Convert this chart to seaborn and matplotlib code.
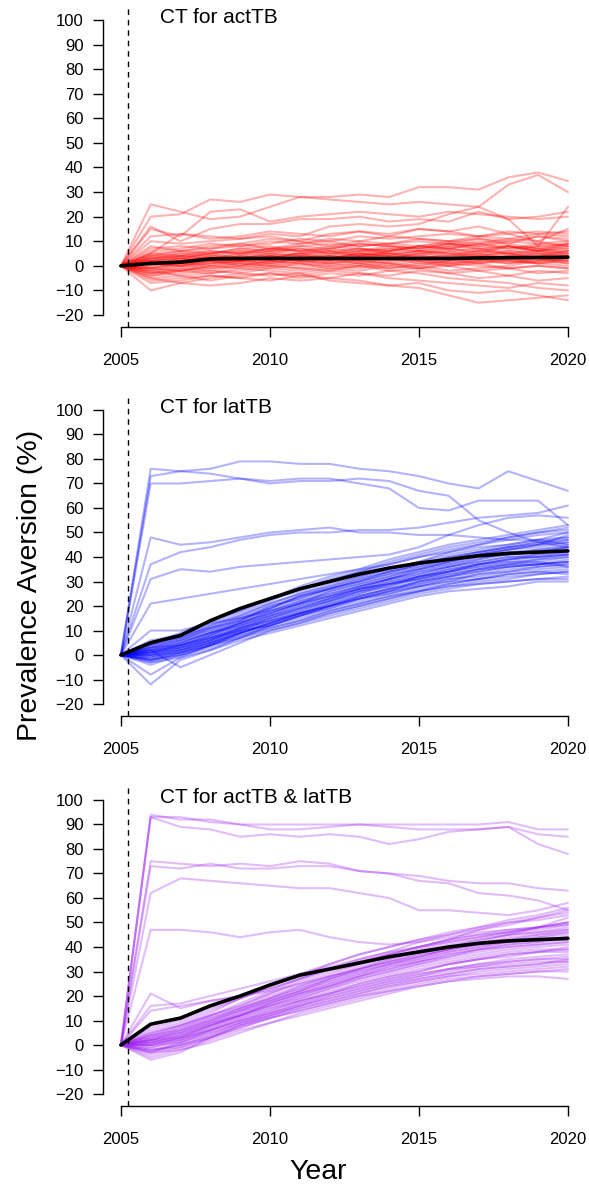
import matplotlib
matplotlib.use("Agg")
import matplotlib.pyplot as plt
import numpy as np
import pandas as pd
import seaborn as sns

years = list(range(2005, 2021))

titles = ["CT for actTB", "CT for latTB", "CT for actTB & latTB"]

act_runs = [
    [0, 25, 22, 19, 20, 24, 28, 28, 29, 28, 32, 32, 31, 36, 38, 34.5],
    [0, 20, 21, 27, 26, 29, 28, 27, 26, 25, 26, 25, 24, 33, 37, 30],
    [0, 15, 12, 22, 23, 18, 20, 21, 22, 21, 20, 22, 21, 20, 19, 20],
    [0, 16, 10, 15, 17, 17, 19, 19, 20, 18, 19, 18, 22, 19, 20, 22],
    [0, 5, 13, 12, 11, 13, 12, 16, 17, 16, 17, 21, 24, 19, 8, 24],
    [0, 10, 9, 10, 11, 12, 10, 13, 14, 12, 15, 14, 16, 13, 10, 15],
    [0, -10, -7, -8, -7, -5, -6, -5, -6, -8, -9, -12, -15, -14, -13, -12],
    [0, -5, -7, -5, -3, -4, -3, -6, -7, -8, -7, -10, -11, -10, -12, -14],
    [0, 2, 3, 5, 6, 7, 8, 9, 8, 9, 10, 9, 11, 10, 12, 11],
    [0, 4, 6, 7, 8, 9, 11, 10, 12, 11, 12, 13, 12, 14, 13, 14],
    [0, -2, -1, 1, 2, 1, 3, 2, 4, 3, 5, 4, 6, 5, 4, 6],
    [0, 1, 2, 3, 4, 3, 5, 6, 5, 7, 6, 8, 7, 6, 8, 7],
    [0, -4, -3, -2, -3, -1, -2, 0, -1, 1, 0, -2, -1, 0, 2, 1],
    [0, 3, 5, 4, 6, 5, 4, 6, 7, 5, 6, 7, 5, 8, 6, 9],
    [0, -1, 0, 2, 1, 3, 2, 4, 3, 2, 4, 3, 5, 3, 2, 4],
    [0, 6, 7, 9, 8, 10, 9, 11, 10, 12, 11, 10, 12, 11, 13, 12],
    [0, -6, -5, -4, -5, -3, -4, -2, -3, -4, -2, -3, -5, -4, -6, -5],
    [0, 2, 1, 3, 2, 4, 5, 3, 4, 6, 5, 7, 6, 5, 7, 5],
    [0, -3, -2, 0, -1, 1, 0, 2, 1, 0, 2, 1, 3, 2, 1, 3],
    [0, 8, 6, 8, 9, 7, 9, 10, 8, 9, 11, 10, 9, 11, 10, 8],
    [0, 1, 3, 2, 4, 6, 5, 7, 6, 8, 7, 9, 8, 10, 9, 10],
    [0, -2, -4, -3, -1, -2, -3, -1, 0, -2, -1, 1, 0, -1, -3, -2],
    [0, 4, 3, 5, 7, 6, 8, 7, 9, 8, 7, 9, 8, 7, 9, 8],
    [0, 0, 1, 0, 2, 3, 2, 1, 3, 4, 3, 2, 4, 5, 3, 2],
    [0, -7, -6, -4, -5, -6, -4, -5, -3, -5, -6, -7, -8, -9, -7, -8],
    [0, 3, 4, 6, 5, 7, 6, 5, 7, 6, 8, 9, 7, 8, 6, 7],
    [0, 12, 13, 11, 12, 14, 13, 12, 14, 13, 15, 14, 12, 13, 14, 13],
    [0, -1, 1, 3, 2, 1, 3, 4, 2, 3, 1, 2, 4, 6, 5, 4],
    [0, 5, 4, 3, 5, 4, 2, 3, 5, 4, 3, 5, 4, 2, 3, 1],
    [0, -3, -1, -2, 0, -1, 1, -1, -2, 0, -1, -3, -2, -4, -2, -3],
    [0, 2, 4, 5, 3, 5, 7, 6, 4, 6, 8, 7, 9, 8, 6, 5],
    [0, -5, -4, -6, -4, -3, -5, -3, -4, -2, -3, -5, -6, -7, -9, -10],
    [0, 7, 8, 7, 9, 11, 10, 8, 10, 9, 8, 10, 11, 9, 12, 10],
    [0, 1, 0, -1, 1, 0, -1, 1, 2, 1, -1, 0, 1, -1, 0, -1],
    [0, 3, 2, 4, 3, 2, 4, 3, 1, 3, 2, 0, 2, 1, 3, 4],
    [0, -2, 0, 1, 3, 4, 3, 5, 4, 3, 5, 6, 4, 3, 5, 6],
    [0, 1, 2, 4, 3, 5, 4, 3, 5, 4, 6, 5, 3, 4, 5, 3],
    [0, 2, 3, 2, 4, 3, 5, 4, 6, 5, 4, 6, 7, 5, 6, 8],
    [0, -1, -2, 0, 1, 0, 2, 1, 0, 2, 3, 1, 2, 4, 3, 2],
    [0, 4, 5, 6, 5, 7, 6, 8, 7, 6, 8, 7, 9, 7, 8, 9],
    [0, 0, 2, 3, 2, 4, 3, 2, 4, 5, 4, 3, 2, 3, 4, 5],
    [0, -3, -2, -1, 0, 2, 1, 0, 1, -1, 0, 2, 1, 3, 1, 0],
    [0, 3, 4, 3, 5, 6, 7, 5, 6, 7, 6, 5, 6, 8, 7, 6],
    [0, 1, 0, 2, 3, 2, 1, 3, 2, 1, 3, 4, 3, 1, 2, 3],
    [0, -4, -2, -3, -2, 0, -1, -2, 0, -1, 1, 0, -2, -1, 0, -1],
    [0, 5, 6, 5, 7, 8, 6, 7, 9, 8, 7, 8, 10, 9, 7, 9],
    [0, 2, 1, 1, 2, 4, 3, 4, 3, 5, 3, 4, 5, 4, 6, 4],
    [0, -1, 1, 2, 0, 2, 4, 3, 5, 4, 2, 3, 1, 2, 1, 2],
]
act_mean = [0, 1, 1.5, 2.8, 3, 3, 3, 3, 3, 3, 3, 3, 3.2, 3.3, 3.4, 3.5]

lat_runs = [
    [0, 76, 75, 76, 79, 79, 78, 78, 76, 75, 73, 70, 68, 75, 71, 67],
    [0, 73, 75, 74, 72, 71, 72, 72, 70, 68, 60, 59, 63, 63, 63, 53],
    [0, 70, 70, 71, 72, 70, 71, 71, 72, 71, 67, 65, 55, 50, 46, 44],
    [0, 48, 45, 46, 48, 50, 51, 52, 50, 50, 49, 49, 48, 47, 47, 45],
    [0, 37, 42, 44, 47, 49, 50, 50, 51, 51, 52, 54, 56, 57, 58, 61],
    [0, 31, 35, 34, 36, 37, 38, 39, 40, 41, 44, 49, 53, 56, 57, 56],
    [0, 21, 23, 25, 27, 29, 31, 33, 35, 37, 40, 42, 44, 45, 47, 50],
    [0, 10, 10, 13, 15, 18, 21, 24, 27, 29, 32, 34, 37, 39, 40, 41],
    [0, -12, -2, 2, 7, 12, 16, 20, 24, 27, 30, 33, 35, 37, 38, 40],
    [0, -8, -1, 4, 9, 13, 17, 20, 23, 26, 29, 31, 33, 34, 36, 37],
    [0, 2, -5, 0, 5, 10, 13, 17, 20, 23, 26, 28, 30, 31, 33, 34],
    [0, 3, 6, 10, 15, 20, 24, 27, 31, 34, 37, 40, 42, 44, 46, 48],
    [0, 1, 4, 8, 13, 17, 21, 25, 28, 31, 34, 36, 39, 41, 42, 44],
    [0, 4, 7, 12, 16, 21, 25, 28, 32, 35, 38, 42, 45, 48, 50, 52],
    [0, -2, 2, 6, 11, 15, 19, 22, 26, 29, 31, 33, 35, 36, 37, 38],
    [0, 0, 3, 7, 12, 16, 20, 23, 27, 30, 33, 36, 38, 40, 41, 42],
    [0, 2, 5, 9, 14, 19, 23, 27, 30, 33, 35, 38, 40, 41, 42, 44],
    [0, -3, 1, 5, 9, 13, 16, 20, 23, 25, 28, 30, 31, 33, 34, 35],
    [0, 5, 9, 14, 18, 23, 28, 32, 35, 39, 42, 45, 47, 49, 51, 53],
    [0, 1, 3, 6, 10, 14, 17, 21, 24, 27, 29, 32, 34, 36, 37, 39],
    [0, -4, 0, 4, 8, 12, 15, 18, 21, 24, 26, 28, 29, 30, 31, 32],
    [0, 3, 5, 9, 13, 18, 22, 26, 29, 32, 36, 38, 41, 43, 44, 46],
    [0, 6, 8, 13, 18, 23, 26, 30, 34, 37, 40, 43, 45, 47, 49, 50],
    [0, 0, 2, 5, 9, 13, 17, 21, 25, 28, 32, 34, 37, 39, 40, 41],
    [0, -1, 1, 4, 8, 11, 14, 18, 21, 24, 27, 29, 31, 32, 33, 34],
    [0, 2, 4, 8, 12, 16, 20, 24, 27, 31, 34, 37, 39, 42, 43, 45],
    [0, 4, 6, 11, 15, 19, 24, 28, 31, 34, 37, 39, 42, 44, 46, 47],
    [0, -2, 0, 3, 7, 10, 13, 16, 19, 22, 25, 27, 29, 30, 31, 31],
    [0, 1, 5, 9, 13, 18, 22, 25, 28, 31, 33, 36, 38, 40, 40, 42],
    [0, 3, 7, 11, 16, 21, 25, 29, 32, 35, 38, 41, 43, 45, 47, 48],
    [0, -1, 2, 5, 9, 13, 17, 20, 24, 27, 30, 32, 34, 36, 37, 38],
    [0, 5, 8, 12, 17, 22, 27, 31, 34, 38, 41, 44, 46, 48, 50, 51],
    [0, 0, 4, 7, 11, 15, 18, 22, 26, 28, 31, 34, 36, 37, 39, 40],
    [0, 2, 3, 7, 10, 15, 19, 23, 26, 30, 32, 35, 37, 38, 38, 36],
    [0, -3, -1, 2, 6, 9, 12, 15, 18, 21, 24, 26, 27, 28, 30, 30],
    [0, 1, 2, 6, 11, 14, 18, 22, 25, 29, 31, 34, 36, 38, 39, 41],
    [0, 3, 4, 8, 13, 17, 21, 24, 28, 31, 35, 37, 40, 41, 43, 44],
    [0, -2, 1, 4, 9, 12, 16, 19, 22, 25, 28, 31, 32, 34, 35, 36],
    [0, 4, 8, 11, 14, 20, 23, 27, 30, 34, 36, 39, 41, 43, 45, 46],
    [0, 0, 1, 5, 10, 14, 17, 20, 23, 26, 30, 32, 35, 37, 37, 38],
    [0, 2, 6, 9, 12, 17, 21, 26, 29, 32, 35, 38, 41, 43, 45, 47],
    [0, -1, 3, 6, 10, 12, 16, 19, 23, 26, 28, 30, 33, 35, 36, 37],
    [0, 5, 7, 10, 14, 19, 24, 27, 30, 33, 37, 40, 42, 44, 45, 49],
    [0, 1, 4, 7, 11, 16, 19, 23, 27, 29, 32, 35, 37, 39, 41, 43],
    [0, -2, 0, 4, 7, 11, 14, 17, 20, 23, 26, 29, 31, 33, 34, 33],
]
lat_mean = [0, 5, 8, 14, 19, 23, 27, 30, 33, 35.5, 37.5, 39, 40.5, 41.5, 42, 42.5]

both_runs = [
    [0, 93, 93, 91, 90, 90, 90, 90, 90, 90, 90, 90, 90, 91, 88, 88],
    [0, 94, 92, 92, 90, 88, 88, 89, 90, 89, 88, 88, 88, 89, 86, 85],
    [0, 93, 89, 88, 85, 86, 85, 86, 85, 82, 84, 87, 88, 89, 82, 78],
    [0, 75, 74, 73, 74, 73, 75, 74, 71, 70, 67, 66, 62, 61, 59, 55],
    [0, 73, 72, 74, 72, 72, 73, 73, 71, 70, 69, 67, 66, 66, 64, 63],
    [0, 62, 68, 67, 66, 65, 64, 64, 62, 60, 55, 55, 54, 53, 55, 58],
    [0, 47, 47, 46, 44, 46, 47, 44, 42, 41, 42, 44, 46, 47, 48, 50],
    [0, 21, 15, 18, 20, 22, 25, 28, 31, 34, 36, 39, 42, 45, 48, 52],
    [0, 16, 17, 20, 23, 26, 29, 32, 35, 38, 40, 43, 45, 47, 48, 50],
    [0, 14, 16, 18, 20, 23, 27, 31, 34, 37, 40, 43, 47, 49, 52, 55],
    [0, -6, -3, 3, 8, 12, 16, 19, 22, 25, 27, 29, 31, 32, 33, 35],
    [0, 2, 5, 10, 15, 19, 23, 27, 31, 34, 37, 39, 41, 43, 44, 46],
    [0, 0, 3, 8, 12, 16, 20, 24, 27, 30, 33, 35, 37, 39, 40, 41],
    [0, 4, 7, 12, 17, 22, 27, 31, 35, 38, 42, 45, 47, 50, 52, 54],
    [0, -3, 1, 6, 10, 14, 18, 21, 24, 27, 29, 31, 33, 34, 35, 36],
    [0, 1, 4, 9, 13, 18, 22, 26, 29, 33, 35, 38, 40, 42, 43, 44],
    [0, 3, 6, 11, 15, 20, 24, 28, 32, 35, 38, 41, 43, 45, 46, 48],
    [0, -2, 0, 4, 8, 12, 15, 18, 21, 24, 26, 28, 29, 30, 31, 32],
    [0, 5, 8, 13, 19, 24, 28, 33, 37, 40, 43, 45, 48, 50, 51, 53],
    [0, 0, 2, 6, 10, 14, 18, 21, 25, 28, 30, 33, 35, 36, 38, 39],
    [0, -4, -1, 3, 7, 11, 14, 17, 20, 22, 24, 26, 27, 28, 28, 27],
    [0, 2, 4, 8, 13, 17, 21, 25, 29, 32, 35, 38, 40, 42, 44, 45],
    [0, 6, 9, 14, 19, 23, 27, 31, 34, 37, 40, 42, 44, 46, 47, 49],
    [0, -1, 2, 6, 10, 13, 17, 21, 24, 27, 30, 33, 35, 37, 38, 40],
    [0, -2, -1, 3, 7, 11, 14, 17, 20, 23, 26, 28, 30, 31, 32, 33],
    [0, 3, 5, 9, 14, 18, 22, 26, 30, 33, 36, 39, 41, 44, 45, 47],
    [0, 1, 3, 8, 12, 17, 21, 25, 28, 31, 34, 36, 39, 41, 42, 43],
    [0, -3, -2, 2, 6, 9, 12, 15, 18, 21, 24, 26, 28, 29, 30, 30],
    [0, 2, 6, 10, 14, 19, 23, 27, 30, 33, 36, 39, 41, 42, 43, 44],
    [0, 4, 8, 12, 16, 21, 25, 29, 33, 36, 39, 42, 44, 46, 48, 50],
    [0, 0, 1, 5, 9, 13, 16, 20, 23, 26, 29, 31, 33, 35, 36, 37],
    [0, 7, 10, 15, 19, 24, 29, 33, 37, 40, 43, 46, 48, 51, 53, 56],
    [0, -5, -2, 1, 5, 9, 13, 16, 19, 22, 25, 27, 28, 29, 30, 31],
    [0, 1, 2, 7, 11, 15, 19, 23, 26, 29, 32, 34, 36, 38, 39, 39],
    [0, 2, 3, 7, 12, 16, 19, 23, 27, 30, 33, 36, 38, 40, 41, 42],
    [0, -1, 1, 5, 9, 12, 16, 19, 22, 25, 28, 30, 32, 34, 35, 35],
    [0, 3, 7, 11, 15, 19, 24, 28, 31, 35, 38, 40, 43, 45, 46, 47],
    [0, 0, 3, 6, 11, 15, 18, 22, 25, 28, 31, 33, 35, 37, 38, 38],
    [0, 4, 6, 10, 14, 18, 22, 27, 31, 34, 37, 40, 42, 43, 45, 46],
    [0, -2, 0, 4, 9, 13, 17, 20, 23, 26, 28, 31, 32, 33, 34, 34],
    [0, 1, 4, 8, 12, 16, 20, 24, 28, 31, 34, 37, 39, 40, 41, 42],
    [0, 5, 8, 12, 16, 21, 26, 30, 33, 37, 40, 43, 45, 46, 48, 49],
    [0, -3, 0, 3, 8, 11, 15, 18, 21, 24, 27, 29, 31, 32, 33, 34],
    [0, 2, 5, 9, 12, 17, 21, 24, 28, 32, 34, 37, 39, 41, 42, 44],
]
both_mean = [0, 8.5, 11, 16, 20, 24.5, 28.5, 31, 33.5, 36, 38, 40, 41.5, 42.5, 43, 43.5]

panel_runs = [act_runs, lat_runs, both_runs]
panel_means = [act_mean, lat_mean, both_mean]
panel_colors = ["#FF0000", "#0000FF", "#A020F0"]

sns.set_style("ticks")
plt.rcParams["font.family"] = ["Liberation Sans", "DejaVu Sans"]
plt.rcParams["text.color"] = "black"
plt.rcParams["xtick.color"] = "black"
plt.rcParams["ytick.color"] = "black"
plt.rcParams["axes.edgecolor"] = "black"

fig = plt.figure(figsize=(5.89, 11.91), dpi=100)
W, H = 589.0, 1191.0
regions = [(8.2, 326.8), (398.2, 715.8), (788.2, 1105.8)]
left_px, right_px = 103.0, 585.8

for runs, mean, col, title, (tp, bp) in zip(panel_runs, panel_means, panel_colors, titles, regions):
    ax = fig.add_axes([left_px / W, 1 - bp / H, (right_px - left_px) / W, (bp - tp) / H])
    rows = []
    for i, r in enumerate(runs):
        for y, v in zip(years, r):
            rows.append({"run": i, "year": y, "value": v})
    df = pd.DataFrame(rows)
    sns.lineplot(data=df, x="year", y="value", units="run", estimator=None,
                 color=col, alpha=0.3, lw=1.5, ax=ax, legend=False)
    dm = pd.DataFrame({"year": years, "value": mean})
    sns.lineplot(data=dm, x="year", y="value", color="black", lw=2.6, ax=ax,
                 estimator=None, legend=False)
    ax.axvline(2005.25, color="black", lw=1.0, ls=(0, (4, 3.5)))
    ax.set_xlim(2004.4, 2020.6)
    ax.set_ylim(-24.8, 104.8)
    for s in ["top", "right"]:
        ax.spines[s].set_visible(False)
    ax.spines["left"].set_bounds(-20, 100)
    ax.spines["bottom"].set_bounds(2005, 2020)
    ax.spines["left"].set_linewidth(1.0)
    ax.spines["bottom"].set_linewidth(1.0)
    ax.set_yticks(list(range(-20, 101, 10)))
    ax.set_xticks([2005, 2010, 2015, 2020])
    ax.tick_params(axis="y", length=7, width=1.0, pad=7, labelsize=12, colors="black")
    ax.tick_params(axis="x", length=7, width=1.0, pad=12, labelsize=12, colors="black")
    ax.set_xlabel("")
    ax.set_ylabel("")
    ax.text(2006.31, 101, title, ha="left", va="center", fontsize=15, color="black")

fig.text(30 / W, 1 - 585 / H, "Prevalence Aversion (%)", rotation=90,
         ha="center", va="center", fontsize=20.5, color="black")
fig.text(318 / W, 1 - 1172 / H, "Year", ha="center", va="center", fontsize=20.5, color="black")

fig.savefig("out.png", dpi=100)
